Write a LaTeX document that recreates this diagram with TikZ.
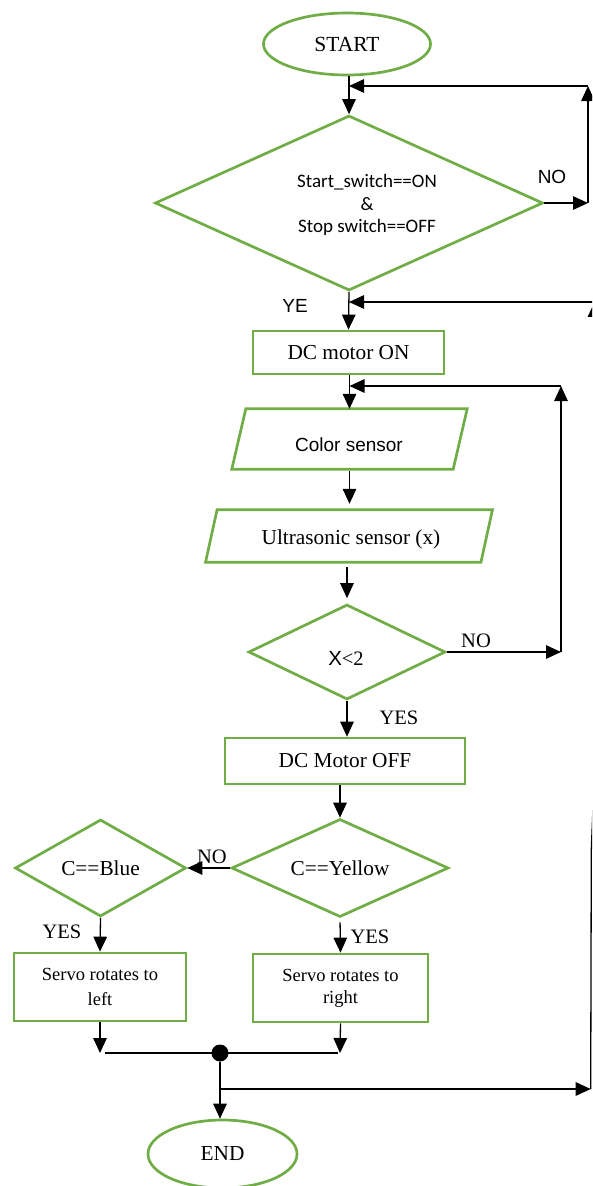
\documentclass[tikz,border=0pt]{standalone}
\usepackage{fontspec}
\setmainfont{Liberation Serif}
\newfontfamily\fsans{Liberation Sans}
\newfontfamily\fcal{Carlito}
\usetikzlibrary{shapes.geometric,arrows.meta}
\definecolor{bgreen}{HTML}{70AD47}
\tikzset{
  gline/.style={draw=bgreen, line width=2.7pt},
  gbox/.style={gline, rectangle, inner sep=0pt},
  gdia/.style={gline, diamond, inner sep=0pt, aspect=2},
  gell/.style={gline, ellipse, inner sep=0pt},
  gpar/.style={rectangle, inner sep=0pt},
  conn/.style={line width=1.3pt, black},
  arr/.style={conn, -{Triangle[length=15pt,width=13.5pt]}},
  lbl/.style={inner sep=0pt},
  serifA/.style={font=\fontsize{21.3}{25}\selectfont},
  serifL/.style={font=\fontsize{20.5}{24}\selectfont},
  sans19/.style={font=\fsans\fontsize{19}{23}\selectfont},
}
\begin{document}
\begin{tikzpicture}[x=1pt,y=-1pt]
\useasboundingbox (0,0) rectangle (592,1186);
\clip (0,0) rectangle (592,1186);

% ---- shapes ----
\node[gell, minimum width=167pt, minimum height=62pt, font=\fontsize{21.5}{25}\selectfont] (start) at (347,44) {START};
\node[gdia, minimum width=388pt, minimum height=175pt] (d1) at (349,203) {};
\node[lbl, align=center, font=\fcal\fontsize{19}{22.5}\selectfont] (d1t) at (367,205) {Start\_switch==ON\\\&\\Stop switch==OFF};
\node[gbox, minimum width=191pt, minimum height=43pt, serifA] (dcon) at (348.5,352.5) {DC motor ON};

\node[gpar, minimum width=221pt, minimum height=60pt] (color) at (349.5,439) {};
\draw[gline] ([xshift=-7pt]color.south west) -- ([xshift=7pt]color.north west) -- ([xshift=7pt]color.north east) -- ([xshift=-7pt]color.south east) -- cycle;
\node[lbl, sans19] (colort) at (349,445) {Color sensor};

\node[gpar, minimum width=275pt, minimum height=52pt] (ultra) at (349,536) {};
\draw[gline] ([xshift=-5.75pt]ultra.south west) -- ([xshift=5.75pt]ultra.north west) -- ([xshift=5.75pt]ultra.north east) -- ([xshift=-5.75pt]ultra.south east) -- cycle;
\node[lbl, serifA] (ultrat) at (351,539) {Ultrasonic sensor (x)};

\node[gdia, minimum width=197pt, minimum height=95pt] (d2) at (347,652) {};
\node[lbl, font=\fontsize{20.5}{24}\selectfont] (d2t) at (346,658) {{\fsans X}<2};

\node[gbox, minimum width=240pt, minimum height=46pt, serifA] (dcoff) at (345,761) {DC Motor OFF};
\node[gdia, minimum width=217pt, minimum height=98pt, serifA] (dy) at (340,868) {C==Yellow};
\node[gdia, minimum width=171pt, minimum height=97pt, serifA] (db) at (100.5,868) {C==Blue};
\node[gbox, minimum width=172pt, minimum height=68pt, align=center, font=\fontsize{18.5}{25}\selectfont] (sl) at (100,987) {Servo rotates to\\left};
\node[gbox, minimum width=175pt, minimum height=68pt, align=center, font=\fontsize{18.5}{22}\selectfont] (sr) at (340.5,988) {Servo rotates to\\right};
\node[circle, fill=black, inner sep=0pt, minimum size=17pt] (dot) at (220,1053) {};
\node[gell, minimum width=149pt, minimum height=68pt, serifA] (end) at (222.5,1154) {END};

% ---- coordinates ----
\coordinate (t1) at (588,203);
\coordinate (t2) at (588,86);
\coordinate (m1) at (349,86);
\coordinate (m2) at (349,302);
\coordinate (rt) at (594.5,302);
\coordinate (m3) at (349.5,386);
\coordinate (l1) at (561,652);
\coordinate (l2) at (561,386);
\coordinate (ml) at (100,1053);
\coordinate (mr) at (340,1053);
\coordinate (fk) at (220,1089);
\coordinate (rb) at (590.7,1089);

% ---- connectors ----
\draw[arr] (d1.north |- start.south) -- (d1.north);
\draw[arr] (d1.east) -- (t1);
\draw[arr] (t1) -- (t2);
\draw[arr] (t2) -- (m1);
\node[lbl, sans19] (no1) at (552,177) {NO};

\draw[arr] (d1.south) -- (dcon.north);
\node[lbl, sans19] (ye) at (295,306) {YE};
\draw[arr] (rt) -- (m2);

\draw[arr] (color.north |- dcon.south) -- (color.north);
\draw[arr] (d2.east) -- (l1);
\draw[arr] (l1) -- (l2);
\draw[arr] (l2) -- (m3);
\node[lbl, serifL] (no2) at (476,641) {NO};

\draw[arr, shorten <=2pt, shorten >=6pt] (color.south) -- (color.south |- ultra.north);
\draw[arr, shorten <=5pt, shorten >=5pt] (ultra.south -| d2.north) -- (d2.north);
\draw[arr] (d2.south) -- (d2.south |- dcoff.north);
\node[lbl, serifL] (yes1) at (399,718) {YES};

\draw[arr] (dy.north |- dcoff.south) -- (dy.north);
\draw[arr] (dy.west) -- (db.east);
\node[lbl, serifL] (no3) at (212,857) {NO};
\draw[arr] (db.south) -- (sl.north);
\node[lbl, serifL] (yes2) at (62,932) {YES};
\draw[arr, shorten <=4pt] (dy.south) -- (sr.north);
\node[lbl, serifL] (yes3) at (370,937) {YES};

\draw[arr] (sl.south) -- (ml);
\draw[arr] (sr.south) -- (mr);
\draw[conn] ([xshift=5pt]ml) -- ([xshift=-2pt]mr);
\draw[arr] (dot) -- (dot |- end.north);
\draw[arr] (fk) -- (rb);
\draw[arr] (rb) -- (591.3,850) -- (593.3,800) -- (rt);
\end{tikzpicture}
\end{document}
